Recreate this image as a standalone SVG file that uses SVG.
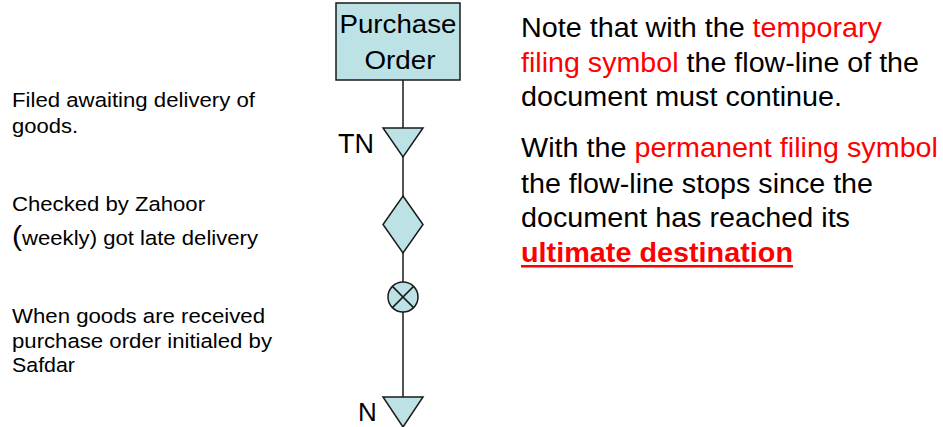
<svg xmlns="http://www.w3.org/2000/svg" width="943" height="427" viewBox="0 0 943 427">
<style>
.t{font-family:"Liberation Sans",Arial,sans-serif;fill:#000}
.sm{font-size:20.5px}
.lg{font-size:27.5px}
.red{fill:#FF0000}
.shape{fill:#BCE2E6;stroke:#1a1a1a;stroke-width:1.5}
.conn{stroke:#1a1a1a;stroke-width:1.5;fill:none}
</style>
<rect width="943" height="427" fill="#fff"/>
<g id="connectors">
<line class="conn" x1="403" y1="80" x2="403" y2="128"/>
<line class="conn" x1="403" y1="157" x2="403" y2="196"/>
<line class="conn" x1="403" y1="253" x2="403" y2="282"/>
<line class="conn" x1="403" y1="312" x2="403" y2="397"/>
</g>
<g id="purchase-order">
<rect class="shape" x="336" y="3" width="124" height="77"/>
<text class="t" x="398" y="33" font-size="26" text-anchor="middle" textLength="117" lengthAdjust="spacingAndGlyphs">Purchase</text>
<text class="t" x="400" y="69" font-size="26" text-anchor="middle" textLength="71" lengthAdjust="spacingAndGlyphs">Order</text>
</g>
<g id="temp-file">
<polygon class="shape" points="383,128 423,128 403,157"/>
<text class="t" x="338" y="153" font-size="27">TN</text>
</g>
<g id="check">
<polygon class="shape" points="403,196 423,224.5 403,253 383,224.5"/>
</g>
<g id="agreement">
<circle class="shape" cx="403" cy="297" r="15"/>
<line class="conn" x1="392.4" y1="286.4" x2="413.6" y2="307.6"/>
<line class="conn" x1="413.6" y1="286.4" x2="392.4" y2="307.6"/>
</g>
<g id="perm-file">
<polygon class="shape" points="383,397 423,397 403,427"/>
<text class="t" x="358" y="421" font-size="26">N</text>
</g>
<g id="left-notes">
<text class="t sm" x="12" y="107" textLength="243" lengthAdjust="spacingAndGlyphs">Filed awaiting delivery of</text>
<text class="t sm" x="12" y="133" textLength="66" lengthAdjust="spacingAndGlyphs">goods.</text>
<text class="t sm" x="12" y="211" textLength="193" lengthAdjust="spacingAndGlyphs">Checked by Zahoor</text>
<text class="t sm" x="12" y="245" textLength="246" lengthAdjust="spacingAndGlyphs"><tspan font-size="28">(</tspan>weekly) got late delivery</text>
<text class="t sm" x="12" y="323" textLength="253" lengthAdjust="spacingAndGlyphs">When goods are received</text>
<text class="t sm" x="12" y="348" textLength="260" lengthAdjust="spacingAndGlyphs">purchase order initialed by</text>
<text class="t sm" x="12" y="372" textLength="63" lengthAdjust="spacingAndGlyphs">Safdar</text>
</g>
<g id="right-notes">
<text class="t lg" x="521" y="37" textLength="361" lengthAdjust="spacingAndGlyphs">Note that with the <tspan class="red">temporary</tspan></text>
<text class="t lg" x="521" y="72" textLength="398" lengthAdjust="spacingAndGlyphs"><tspan class="red">filing symbol</tspan> the flow-line of the</text>
<text class="t lg" x="521" y="106" textLength="321" lengthAdjust="spacingAndGlyphs">document must continue.</text>
<text class="t lg" x="521" y="157" textLength="417" lengthAdjust="spacingAndGlyphs">With the <tspan class="red">permanent filing symbol</tspan></text>
<text class="t lg" x="521" y="193" textLength="352" lengthAdjust="spacingAndGlyphs">the flow-line stops since the</text>
<text class="t lg" x="521" y="227" textLength="329" lengthAdjust="spacingAndGlyphs">document has reached its</text>
<text class="t lg red" x="521" y="262" font-weight="bold" textLength="272" lengthAdjust="spacingAndGlyphs">ultimate destination</text>
<rect x="521" y="265" width="272" height="2.5" fill="#FF0000"/>
</g>
</svg>
